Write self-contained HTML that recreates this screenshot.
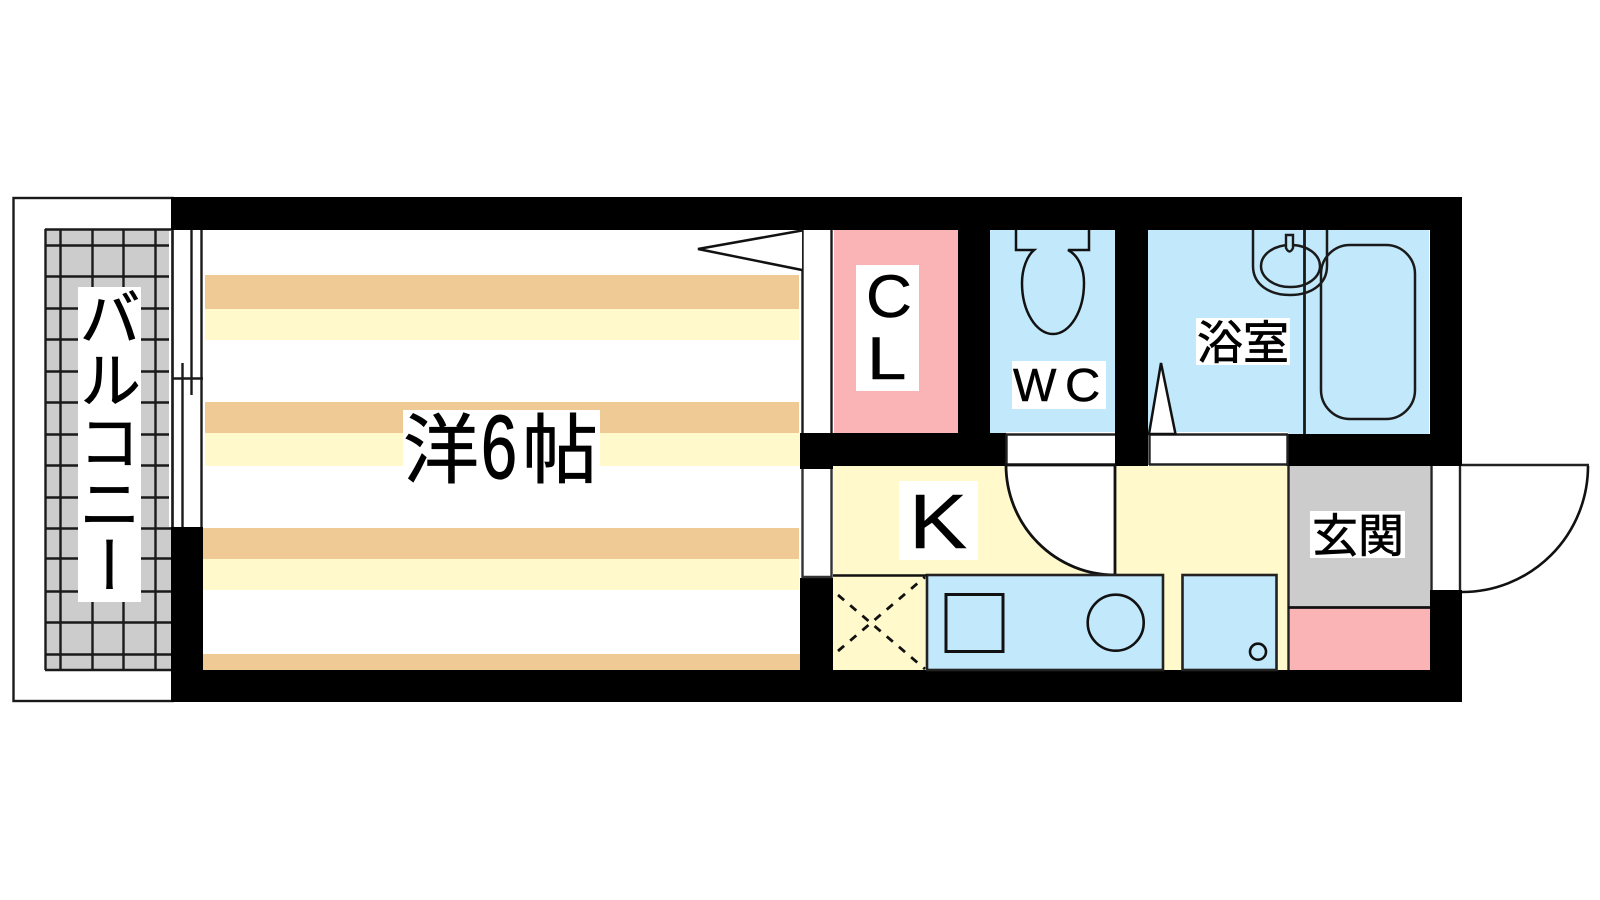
<!DOCTYPE html>
<html lang="ja">
<head>
<meta charset="utf-8">
<title>間取り図</title>
<style>
html,body{margin:0;padding:0;background:#fff;width:1600px;height:900px;overflow:hidden}
svg{display:block}
.j{font-family:"Liberation Sans","Noto Sans CJK JP",sans-serif;fill:#000;stroke:#000;stroke-width:.7px}
.l{font-family:"Liberation Sans",sans-serif;fill:#000;stroke:#000;stroke-width:.5px}
</style>
</head>
<body>
<svg width="1600" height="900" viewBox="0 0 1600 900" xmlns="http://www.w3.org/2000/svg">
<rect width="1600" height="900" fill="#fff"/>

<!-- balcony -->
<rect x="13.500" y="198" width="159" height="503" fill="#fff" stroke="#1a1a1a" stroke-width="2.400"/>
<rect x="45" y="229" width="124" height="298" fill="#ccc"/>
<rect x="45" y="527" width="126" height="143" fill="#ccc"/>
<g stroke="#1a1a1a" stroke-width="2.400" fill="none">
<path d="M45.500 229V670M60.500 229V670M92.500 229V670M123.500 229V670M155.500 229V670"/>
<path d="M45 229.500H171M45 245.500H169M45 276.500H169M45 308.500H169M45 339.500H169M45 371.500H169M45 402.500H169M45 434.500H169M45 465.500H169M45 497.500H169M45 528.500H171M45 558.500H171M45 591.500H171M45 622.500H171M45 654.500H171M45 670H171"/>
</g>
<rect x="78" y="287" width="63" height="315" fill="#fff"/>
<text class="j" font-size="62" style="writing-mode:vertical-rl;text-orientation:upright"><tspan x="103.500" y="286">バルコニー</tspan></text>

<!-- room -->
<rect x="203" y="230" width="597" height="440" fill="#fff"/>
<rect x="205" y="275" width="594" height="34" fill="#efca94"/>
<rect x="205" y="309" width="594" height="31" fill="#fff9cb"/>
<rect x="205" y="402" width="594" height="31" fill="#efca94"/>
<rect x="205" y="433" width="595" height="33" fill="#fff9cb"/>
<rect x="203" y="528" width="596" height="31" fill="#efca94"/>
<rect x="203" y="559" width="596" height="31" fill="#fff9cb"/>
<rect x="203" y="654" width="597" height="16" fill="#efca94"/>

<!-- closet, wc, bath -->
<rect x="834" y="230" width="124" height="204" fill="#fab4b6"/>
<rect x="990" y="230" width="125" height="204" fill="#c2e8fb"/>
<rect x="1148" y="230" width="281" height="204" fill="#c2e8fb"/>

<!-- kitchen -->
<rect x="833" y="466" width="456" height="204" fill="#fff9cb"/>
<rect x="1288" y="466" width="142" height="141" fill="#ccc"/>
<rect x="1288" y="607" width="142" height="63" fill="#fab4b6"/>

<!-- walls -->
<g fill="#000">
<rect x="171" y="197" width="1291" height="33"/>
<rect x="171" y="670" width="1291" height="32"/>
<rect x="171" y="527" width="32" height="175"/>
<rect x="1430" y="197" width="32" height="269"/>
<rect x="1430" y="590" width="32" height="112"/>
<rect x="958" y="230" width="32" height="204"/>
<rect x="1115" y="230" width="33" height="236"/>
<rect x="800" y="433" width="33" height="36"/>
<rect x="833" y="433" width="173" height="33"/>
<rect x="1288" y="434" width="142" height="32"/>
<rect x="800" y="578" width="33" height="92"/>
</g>

<!-- window left of room -->
<g stroke="#1a1a1a" stroke-width="2.400" fill="none">
<path d="M172.500 230V527M182.500 363V527M191.500 230V395M201.500 230V527M172 378.500H203"/>
</g>

<!-- door by room / closet -->
<rect x="803" y="230" width="30" height="203" fill="#fff"/>
<path d="M802.500 230V433M831.500 230V433" stroke="#1a1a1a" stroke-width="2.400" fill="none"/>
<path d="M802 230.500L698 249L802 270" fill="#fff" stroke="#111" stroke-width="2.500"/>

<!-- window in the middle wall -->
<rect x="802" y="469" width="30" height="108" fill="#fff"/>
<path d="M802.500 469V578M831.500 469V578M802 577H832" stroke="#333" stroke-width="2.400" fill="none"/>

<!-- door openings -->
<rect x="1006" y="432" width="109" height="34" fill="#fff"/>
<rect x="1149" y="432" width="139" height="34" fill="#fff"/>
<g stroke="#222" stroke-width="2.400" fill="none">
<path d="M1006 434.500H1115M1006 464.500H1115M1006.500 434V465"/>
<path d="M1149 434.500H1288M1149 464.500H1288M1149.500 434V465M1287.500 434V466"/>
</g>

<!-- WC door swing -->
<path d="M1006 465A109 110 0 0 0 1115 575V465Z" fill="#fff" stroke="#111" stroke-width="2.800"/>

<!-- toilet -->
<path d="M1016 230V250H1034C1027 256 1022 269 1022 283C1022 311 1036 334 1053 334C1070 334 1084 311 1084 283C1084 269 1079 256 1068 250H1089V230" fill="#c2e8fb" stroke="#111" stroke-width="2.500"/>

<!-- bath -->
<path d="M1253 230V266C1253 285 1270 295 1290 295C1310 295 1327 285 1327 266V230" fill="none" stroke="#1a1a1a" stroke-width="2.500"/>
<rect x="1261" y="245" width="59" height="42" rx="29" ry="21" fill="none" stroke="#1a1a1a" stroke-width="2.500"/>
<path d="M1286 235H1293V248Q1289.500 255 1286 248Z" fill="#c2e8fb" stroke="#1a1a1a" stroke-width="2.400"/>
<path d="M1304.500 230V434" stroke="#1a1a1a" stroke-width="2.800"/>
<rect x="1321" y="245" width="94" height="174" rx="29" ry="29" fill="none" stroke="#1a1a1a" stroke-width="2.500"/>
<path d="M1149 434L1161 363L1175.500 434Z" fill="#fff" stroke="#111" stroke-width="2.500"/>

<!-- kitchen fixtures -->
<rect x="927" y="575" width="236" height="95" fill="#c2e8fb" stroke="#222" stroke-width="2.600"/>
<path d="M833 575.500H927" stroke="#111" stroke-width="2.600"/>
<path d="M838 595L925 669M838 651L925 577" stroke="#111" stroke-width="2.800" stroke-dasharray="8 8" fill="none"/>
<rect x="946" y="594.500" width="57" height="57" fill="none" stroke="#111" stroke-width="3"/>
<circle cx="1115.700" cy="622.700" r="28" fill="none" stroke="#111" stroke-width="2.600"/>
<rect x="1182.500" y="575" width="94" height="95" fill="#c2e8fb" stroke="#222" stroke-width="2.600"/>
<circle cx="1258" cy="651.700" r="8" fill="none" stroke="#111" stroke-width="2.600"/>

<!-- genkan lines -->
<path d="M1288.500 466V670" stroke="#222" stroke-width="2.400"/>
<path d="M1288 607.500H1430" stroke="#111" stroke-width="2.800"/>

<!-- entrance door -->
<rect x="1430" y="466" width="32" height="124" fill="#fff"/>
<path d="M1431.500 466V590M1460 466V590" stroke="#222" stroke-width="2.400" fill="none"/>
<path d="M1462 465H1589" stroke="#222" stroke-width="2.400"/>
<path d="M1588 466A126 126 0 0 1 1462 592" fill="none" stroke="#111" stroke-width="2.600"/>

<!-- labels -->
<rect x="403" y="410" width="197" height="73" fill="#fff"/>
<text class="j" font-size="76" x="403" y="477">洋</text>
<text class="l" font-size="90" transform="translate(481,478) scale(.72,1)" style="stroke-width:1.200px">6</text>
<text class="j" font-size="76" x="522" y="477">帖</text>

<rect x="856" y="265" width="63" height="126" fill="#fff"/>
<text class="l" font-size="60" transform="translate(866,317) scale(1.06,1)">C</text>
<text class="l" font-size="60" transform="translate(867,379) scale(1.180,1)">L</text>

<rect x="899" y="481" width="79" height="79" fill="#fff"/>
<text class="l" font-size="77" transform="translate(909,548) scale(1.130,1)">K</text>

<rect x="1012" y="361" width="94" height="48" fill="#fff"/>
<text class="l" font-size="46" x="1013" y="401">W</text>
<text class="l" font-size="46" transform="translate(1065,401) scale(1.060,1)">C</text>

<rect x="1196" y="318" width="94" height="47" fill="#fff"/>
<text class="j" font-size="46" x="1197" y="359">浴室</text>

<rect x="1310" y="511" width="95" height="47" fill="#fff"/>
<text class="j" font-size="46" x="1312" y="552">玄関</text>
</svg>
</body>
</html>
